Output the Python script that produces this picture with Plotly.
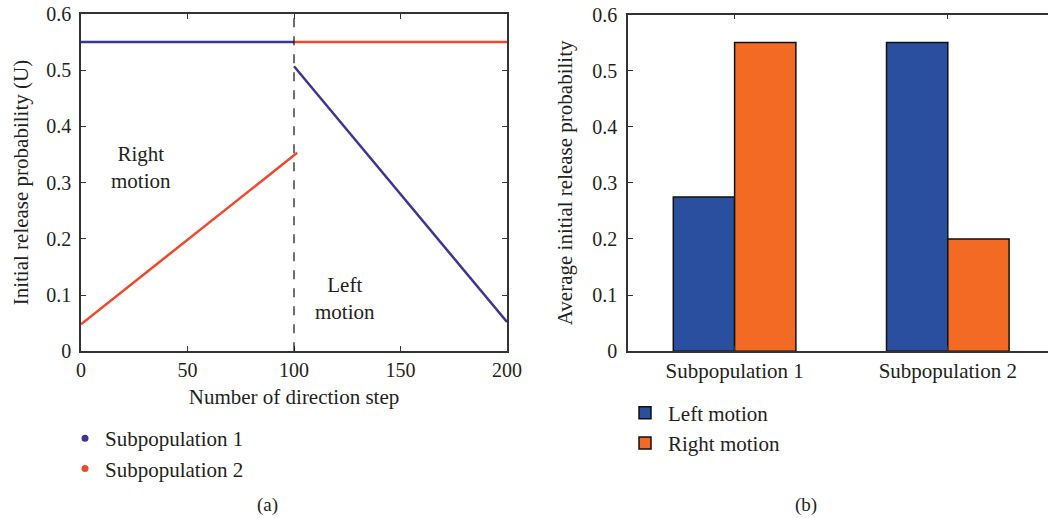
import plotly.graph_objects as go

# ---- panel (a): initial release probability vs. direction step ----
steps_sub1 = [0, 100, None, 100, 200]
u_sub1 = [0.55, 0.55, None, 0.507, 0.052]
steps_sub2 = [0, 101.5, None, 100, 200]
u_sub2 = [0.048, 0.353, None, 0.55, 0.55]
switch_step = 100
x_ticks_a = [0, 50, 100, 150, 200]

# ---- panel (b): average initial release probability ----
populations = ["Subpopulation 1", "Subpopulation 2"]
avg_left = [0.275, 0.55]
avg_right = [0.55, 0.20]

BLUE_LINE = "#3b3597"
RED_LINE = "#f0482a"
BLUE_BAR = "#2a4f9f"
ORANGE_BAR = "#f26a24"
TXT = "#231f20"
AX = "#333333"
FONT = "Liberation Serif"
FS = 21

fig = go.Figure()

fig.add_trace(go.Scatter(x=steps_sub1, y=u_sub1, mode="lines",
                         line=dict(color=BLUE_LINE, width=2.5),
                         showlegend=False, xaxis="x", yaxis="y"))
fig.add_trace(go.Scatter(x=steps_sub2, y=u_sub2, mode="lines",
                         line=dict(color=RED_LINE, width=2.5),
                         showlegend=False, xaxis="x", yaxis="y"))

# legend entries for panel (a) drawn as dots
fig.add_trace(go.Scatter(x=[None], y=[None], mode="markers", name="Subpopulation 1",
                         marker=dict(color=BLUE_LINE, size=7),
                         legend="legend", legendgroup="s1", xaxis="x", yaxis="y"))
fig.add_trace(go.Scatter(x=[None], y=[None], mode="markers", name="Subpopulation 2",
                         marker=dict(color=RED_LINE, size=7),
                         legend="legend", legendgroup="s2", xaxis="x", yaxis="y"))

fig.add_shape(type="line", x0=switch_step, x1=switch_step, y0=0, y1=1,
              xref="x", yref="y domain",
              line=dict(color="#111111", width=1.2, dash="dash"))

fig.add_trace(go.Bar(x=populations, y=avg_left, name="Left motion",
                     marker=dict(color=BLUE_BAR, line=dict(color="#111111", width=1.5)),
                     legend="legend2", legendgroup="l", xaxis="x2", yaxis="y2"))
fig.add_trace(go.Bar(x=populations, y=avg_right, name="Right motion",
                     marker=dict(color=ORANGE_BAR, line=dict(color="#111111", width=1.5)),
                     legend="legend2", legendgroup="r", xaxis="x2", yaxis="y2"))

axis_common = dict(showline=True, linecolor=AX, linewidth=1.5, ticks="inside",
                   ticklen=5, tickwidth=1.2, tickcolor=AX, showgrid=False,
                   zeroline=False, automargin=False,
                   tickfont=dict(size=20, color=TXT, family=FONT))
title_font = dict(size=FS, color=TXT, family=FONT)

fig.update_layout(
    width=1048, height=518,
    margin=dict(l=0, r=0, t=0, b=0, autoexpand=False),
    paper_bgcolor="white", plot_bgcolor="white",
    font=dict(family=FONT, size=FS, color=TXT),
    barmode="group", bargap=0.425, bargroupgap=0,
    xaxis=dict(domain=[81 / 1048, 507 / 1048], range=[0, 200], tickvals=x_ticks_a,
               mirror="ticks", anchor="y",
               title=dict(text="Number of direction step", standoff=9, font=title_font),
               **axis_common),
    yaxis=dict(domain=[0.322, 0.973], range=[0, 0.6], dtick=0.1, mirror="ticks",
               anchor="x", ticklabelstandoff=4,
               title=dict(text="Initial release probability (U)", standoff=12,
                          font=title_font),
               **axis_common),
    xaxis2=dict(domain=[628 / 1048, 1.0], range=[-0.5, 1.47], mirror="ticks",
                anchor="y2", tickfont=dict(size=FS, color=TXT, family=FONT),
                **{k: v for k, v in axis_common.items() if k != "tickfont"}),
    yaxis2=dict(domain=[0.322, 0.972], range=[0, 0.6], dtick=0.1, anchor="x2",
                ticklabelstandoff=5,
                title=dict(text="Average initial release probability", standoff=14,
                           font=title_font),
                **axis_common),
    legend=dict(x=65 / 1048, y=0.193, xanchor="left", yanchor="top",
                font=dict(size=FS, color=TXT, family=FONT),
                traceorder="grouped", tracegroupgap=0, bgcolor="rgba(0,0,0,0)"),
    legend2=dict(x=622 / 1048, y=0.242, xanchor="left", yanchor="top",
                 itemwidth=36,
                 font=dict(size=FS, color=TXT, family=FONT),
                 traceorder="grouped", tracegroupgap=0, bgcolor="rgba(0,0,0,0)"),
    annotations=[
        dict(text="Right<br>motion", x=28, y=0.326, xref="x", yref="y",
             showarrow=False, font=dict(size=FS, color=TXT, family=FONT)),
        dict(text="Left<br>motion", x=124, y=0.094, xref="x", yref="y",
             showarrow=False, font=dict(size=FS, color=TXT, family=FONT)),
        dict(text="(a)", x=267 / 1048, y=(518 - 505) / 518, xref="paper", yref="paper",
             xanchor="center", yanchor="middle", showarrow=False,
             font=dict(size=19, color=TXT, family=FONT)),
        dict(text="(b)", x=806 / 1048, y=(518 - 505) / 518, xref="paper", yref="paper",
             xanchor="center", yanchor="middle", showarrow=False,
             font=dict(size=19, color=TXT, family=FONT)),
    ],
)

fig.write_html("out.html")
